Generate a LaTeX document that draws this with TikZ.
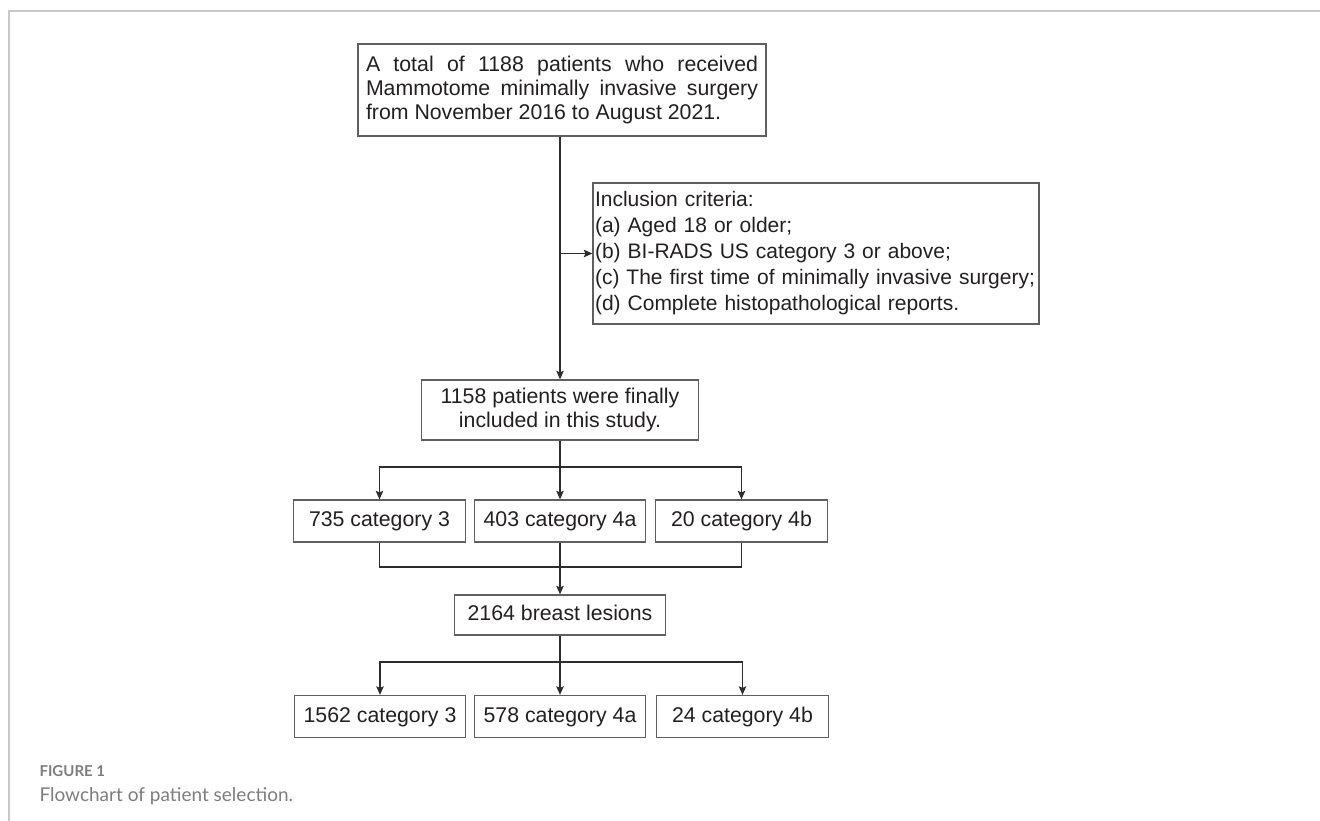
\documentclass[tikz,border=0pt]{standalone}
\usepackage{fontspec}
\setmainfont{Liberation Sans}
\newfontfamily\capfont{Lato}
\usetikzlibrary{calc,positioning,arrows.meta}
\definecolor{txt}{RGB}{35,31,32}
\definecolor{boxline}{RGB}{95,95,95}
\definecolor{conn}{RGB}{45,45,45}
\definecolor{frame}{RGB}{200,200,200}
\definecolor{captxt}{RGB}{125,125,125}
\begin{document}
\begin{tikzpicture}[x=1pt,y=-1pt,>={Stealth[length=8.5pt,width=7.5pt,inset=1.5pt]},
  box/.style={draw=boxline,line width=1.3pt,text=txt,inner xsep=3pt,inner ysep=2pt,font=\fontsize{21.3}{24}\selectfont},
  cat/.style={box,minimum width=171.5pt,minimum height=42pt,text height=15.5pt,text depth=4.5pt},
  conn/.style={draw=conn,line width=1.2pt}]
\useasboundingbox (0,0) rectangle (1320,821);
\draw[frame,line width=1.5pt] (9,821) -- (9,11) -- (1320,11);
\node[box,text width=392pt,inner xsep=8pt,minimum height=92pt,align=justify] (top) at (562,90) {A total of 1188 patients who received Mammotome minimally invasive surgery from November 2016 to August 2021.};
\node[box,text width=442pt,inner xsep=2pt,minimum height=141pt,align=left,font=\fontsize{21}{26}\selectfont] (incl) at (816,253.5) {Inclusion criteria:\\(a) Aged 18 or older;\\(b) BI-RADS US category 3 or above;\\(c) The first time of minimally invasive surgery;\\(d) Complete histopathological reports.};
\node[box,minimum width=277pt,minimum height=60pt,align=center,font=\fontsize{21.3}{23.5}\selectfont] (pts) at (560,410) {1158 patients were finally\\included in this study.};
\node[cat] (c3) at (379.5,521) {735 category 3};
\node[cat] (c4a) at (560,521) {403 category 4a};
\node[cat] (c4b) at (741.5,521) {20 category 4b};
\node[box,minimum width=211pt,minimum height=40pt,text height=15.5pt,text depth=4.5pt] (les) at (560,615) {2164 breast lesions};
\node[cat] (l3) at (380,716.5) {1562 category 3};
\node[cat] (l4a) at (560,716.5) {578 category 4a};
\node[cat] (l4b) at (742.5,716.5) {24 category 4b};
\coordinate (s1) at (560,467);
\coordinate (mg) at (560,567);
\coordinate (s2) at (560,662);
\draw[conn,->] (top.south -| pts.north) -- (pts.north);
\draw[conn,->] (pts.north |- incl.west) -- (incl.west);
\draw[conn,->] (pts.south) -- (c4a.north);
\draw[conn,->] (s1) -| (c3.north);
\draw[conn,->] (s1) -| (c4b.north);
\draw[conn] (c3.south) |- (mg) -| (c4b.south);
\draw[conn,->] (c4a.south) -- (les.north);
\draw[conn,->] (les.south) -- (l4a.north);
\draw[conn,->] (s2) -| (l3.north);
\draw[conn,->] (s2) -| (l4b.north);
\node[anchor=west,text=captxt,font=\capfont\bfseries\fontsize{15}{17}\selectfont] (fig) at (36,771) {FIGURE 1};
\node[anchor=west,text=captxt,font=\capfont\fontsize{19}{22}\selectfont] (cap) at (36,796) {Flowchart of patient selection.};
\end{tikzpicture}
\end{document}
